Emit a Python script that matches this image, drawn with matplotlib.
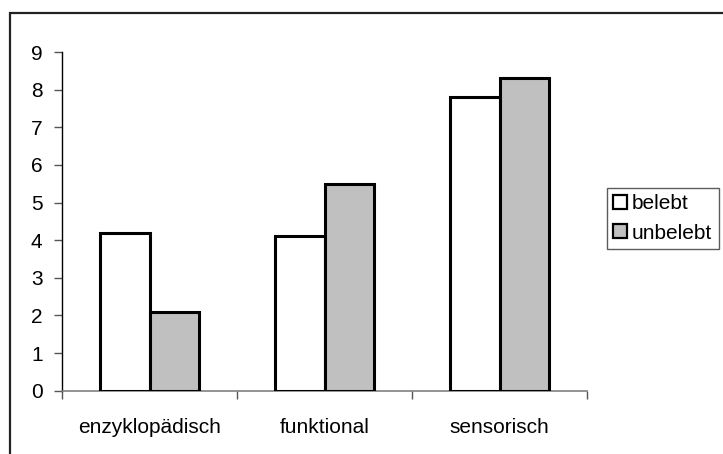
import numpy as np
import matplotlib.pyplot as plt
from matplotlib.patches import Rectangle

categories = ['enzyklopädisch', 'funktional', 'sensorisch']
belebt = [4.2, 4.1, 7.8]
unbelebt = [2.1, 5.5, 8.3]
series_names = ['belebt', 'unbelebt']

plt.rcParams['font.family'] = ['Liberation Sans', 'DejaVu Sans']
plt.rcParams['font.size'] = 15

W, H = 723, 454
fig = plt.figure(figsize=(W / 100, H / 100), dpi=100)

# outer chart frame (right and bottom edges are outside the picture)
frame = Rectangle((10 / W, -0.5), 1.5, 1 - 13 / H + 0.5, transform=fig.transFigure,
                  fill=False, edgecolor='#222222', linewidth=1.6)
fig.patches.append(frame)

ax = fig.add_axes([62 / W, 1 - 390.7 / H, 525 / W, 338.7 / H])

x = np.arange(len(categories))
bw = 0.2857
ax.bar(x - bw / 2, belebt, bw, color='white', edgecolor='black', linewidth=2.2,
       label=series_names[0], zorder=3)
ax.bar(x + bw / 2, unbelebt, bw, color='#C0C0C0', edgecolor='black', linewidth=2.2,
       label=series_names[1], zorder=3)

ax.set_xlim(-0.5, len(categories) - 0.5)
ax.set_ylim(0, 9)
ax.set_yticks(range(10))

ax.set_xticks(x)
ax.set_xticklabels(categories)
ax.set_xticks(np.arange(-0.5, len(categories), 1), minor=True)
ax.tick_params(axis='x', which='major', length=0, pad=20)
ax.tick_params(axis='x', which='minor', length=6, width=1, color='#555555', direction='out')
ax.tick_params(axis='y', length=6, width=1, color='#555555', direction='out', pad=8)

for s in ['top', 'right']:
    ax.spines[s].set_visible(False)
ax.spines['left'].set_color('black')
ax.spines['left'].set_linewidth(1)
ax.spines['bottom'].set_color('#808080')
ax.spines['bottom'].set_linewidth(1.2)

handles, labels = ax.get_legend_handles_labels()
leg = fig.legend(handles, labels, loc='upper left',
                 bbox_to_anchor=(607 / W, 1 - 188 / H), borderaxespad=0,
                 handlelength=0.65, handleheight=0.65, handletextpad=0.25,
                 borderpad=0.3, labelspacing=0.5, fancybox=False, frameon=True)
leg.get_frame().set_edgecolor('#333333')
leg.get_frame().set_linewidth(1)
for p in leg.get_patches():
    p.set_linewidth(1.6)

fig.savefig('out.png', dpi=100)
